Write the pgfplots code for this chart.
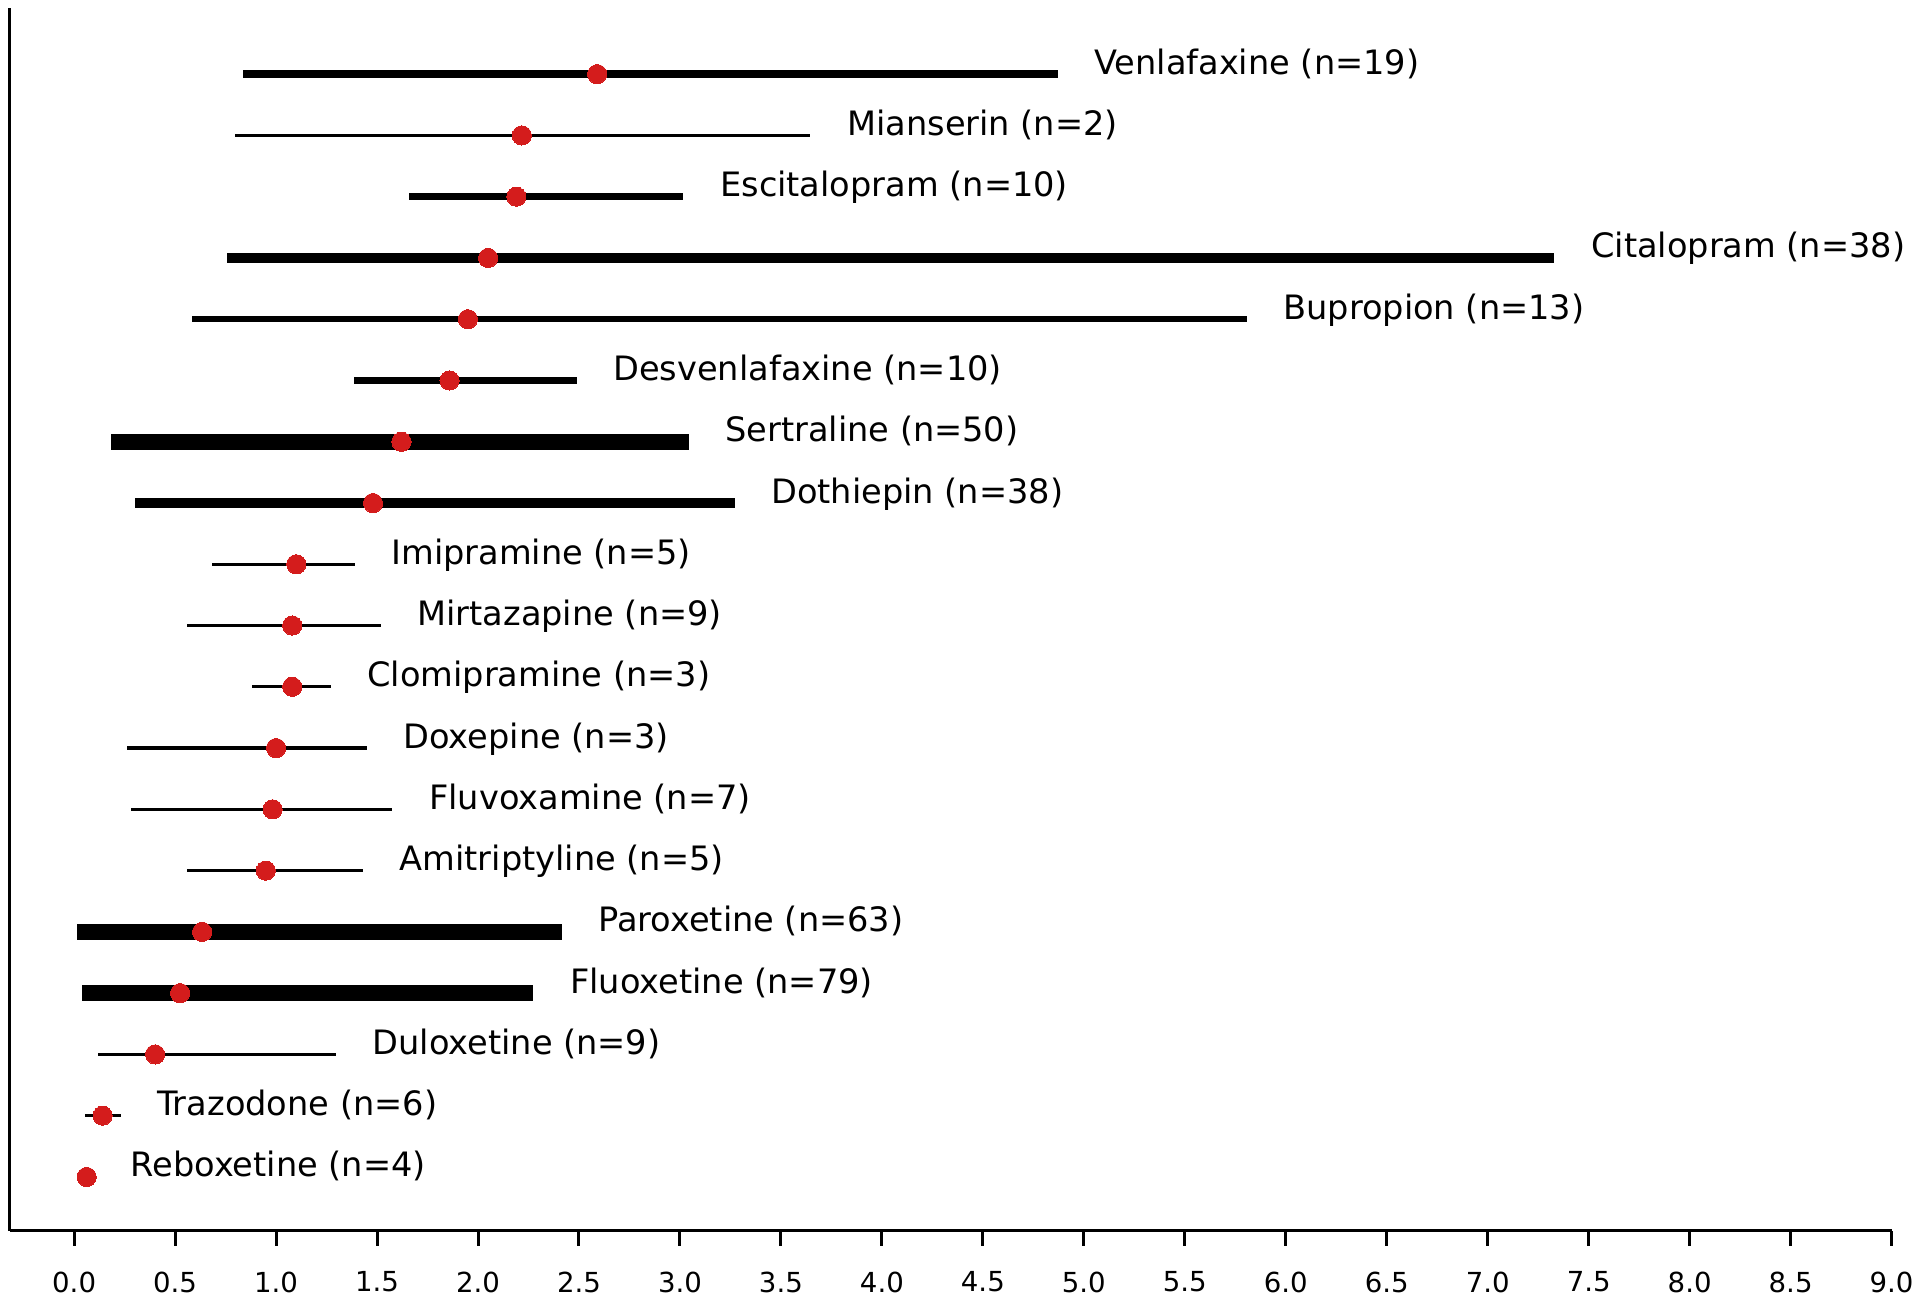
\documentclass[border=0pt]{standalone}
\usepackage{fontspec}
\setmainfont{DejaVu Sans}
\usepackage{pgfplots}
\pgfplotsset{compat=1.18}
\definecolor{dotred}{RGB}{212,28,28}
\newcommand{\lbl}{\fontsize{8.4}{10}\selectfont}
\tikzset{lblnode/.style={pos=1, anchor=base west, xshift=9.2pt, inner sep=0pt, font=\lbl}}
\begin{document}
\begin{tikzpicture}
\begin{axis}[
  scale only axis, width=470.5pt, height=305.7pt,
  xmin=-0.32, xmax=9.0, ymin=-0.88, ymax=19.08,
  axis lines*=left,
  axis line style={-, line width=0.75pt, black},
  xtick={0,0.5,1,1.5,2,2.5,3,3.5,4,4.5,5,5.5,6,6.5,7,7.5,8,8.5,9},
  ytick=\empty,
  xtick align=outside, major tick length=3.75pt,
  every tick/.style={black, line width=0.75pt},
  /pgf/number format/assume math mode=true,
  xticklabel style={/pgf/number format/fixed, /pgf/number format/fixed zerofill, /pgf/number format/precision=1,
    font=\fontsize{6.9}{8}\selectfont, anchor=north, inner sep=0pt, yshift=-6.3pt},
  clip=false,
]
\path (axis description cs:-0.00505,-0.0649) rectangle (axis description cs:1.0151,1.00654);
% ranges (line width by n)
\addplot[black, line width=2.1pt, line cap=rect] coordinates {(0.855,18) (4.849,18)} node[lblnode] {Venlafaxine (n=19)};
\addplot[black, line width=0.85pt, line cap=rect] coordinates {(0.803,17) (3.638,17)} node[lblnode] {Mianserin (n=2)};
\addplot[black, line width=1.75pt, line cap=rect] coordinates {(1.675,16) (3.000,16)} node[lblnode] {Escitalopram (n=10)};
\addplot[black, line width=2.55pt, line cap=rect] coordinates {(0.780,15) (7.305,15)} node[lblnode] {Citalopram (n=38)};
\addplot[black, line width=1.6pt, line cap=rect] coordinates {(0.602,14) (5.790,14)} node[lblnode] {Bupropion (n=13)};
\addplot[black, line width=1.6pt, line cap=rect] coordinates {(1.403,13) (2.472,13)} node[lblnode] {Desvenlafaxine (n=10)};
\addplot[black, line width=3.9pt, line cap=rect] coordinates {(0.220,12) (3.004,12)} node[lblnode] {Sertraline (n=50)};
\addplot[black, line width=2.45pt, line cap=rect] coordinates {(0.324,11) (3.246,11)} node[lblnode] {Dothiepin (n=38)};
\addplot[black, line width=0.8pt, line cap=rect] coordinates {(0.692,10) (1.381,10)} node[lblnode] {Imipramine (n=5)};
\addplot[black, line width=0.8pt, line cap=rect] coordinates {(0.566,9) (1.510,9)} node[lblnode] {Mirtazapine (n=9)};
\addplot[black, line width=0.8pt, line cap=rect] coordinates {(0.889,8) (1.262,8)} node[lblnode] {Clomipramine (n=3)};
\addplot[black, line width=0.8pt, line cap=rect] coordinates {(0.270,7) (1.441,7)} node[lblnode] {Doxepine (n=3)};
\addplot[black, line width=0.8pt, line cap=rect] coordinates {(0.291,6) (1.568,6)} node[lblnode] {Fluvoxamine (n=7)};
\addplot[black, line width=0.8pt, line cap=rect] coordinates {(0.566,5) (1.422,5)} node[lblnode] {Amitriptyline (n=5)};
\addplot[black, line width=4.0pt, line cap=rect] coordinates {(0.055,4) (2.374,4)} node[lblnode] {Paroxetine (n=63)};
\addplot[black, line width=4.0pt, line cap=rect] coordinates {(0.080,3) (2.235,3)} node[lblnode] {Fluoxetine (n=79)};
\addplot[black, line width=0.8pt, line cap=rect] coordinates {(0.124,2) (1.288,2)} node[lblnode] {Duloxetine (n=9)};
\addplot[black, line width=0.8pt, line cap=rect] coordinates {(0.060,1) (0.222,1)} node[lblnode] {Trazodone (n=6)};
\addplot[black, line width=0.8pt, line cap=rect] coordinates {(0.060,0) (0.090,0)} node[lblnode] {Reboxetine (n=4)};
% medians
\addplot[only marks, mark=*, mark size=2.4pt, mark options={fill=dotred, draw=dotred, line width=0pt}] coordinates {
(2.590,18) (2.217,17) (2.190,16) (2.050,15) (1.950,14) (1.859,13) (1.621,12) (1.480,11)
(1.100,10) (1.080,9) (1.080,8) (1.000,7) (0.983,6) (0.949,5) (0.634,4) (0.525,3)
(0.401,2) (0.141,1) (0.062,0)};
\end{axis}
\end{tikzpicture}
\end{document}
